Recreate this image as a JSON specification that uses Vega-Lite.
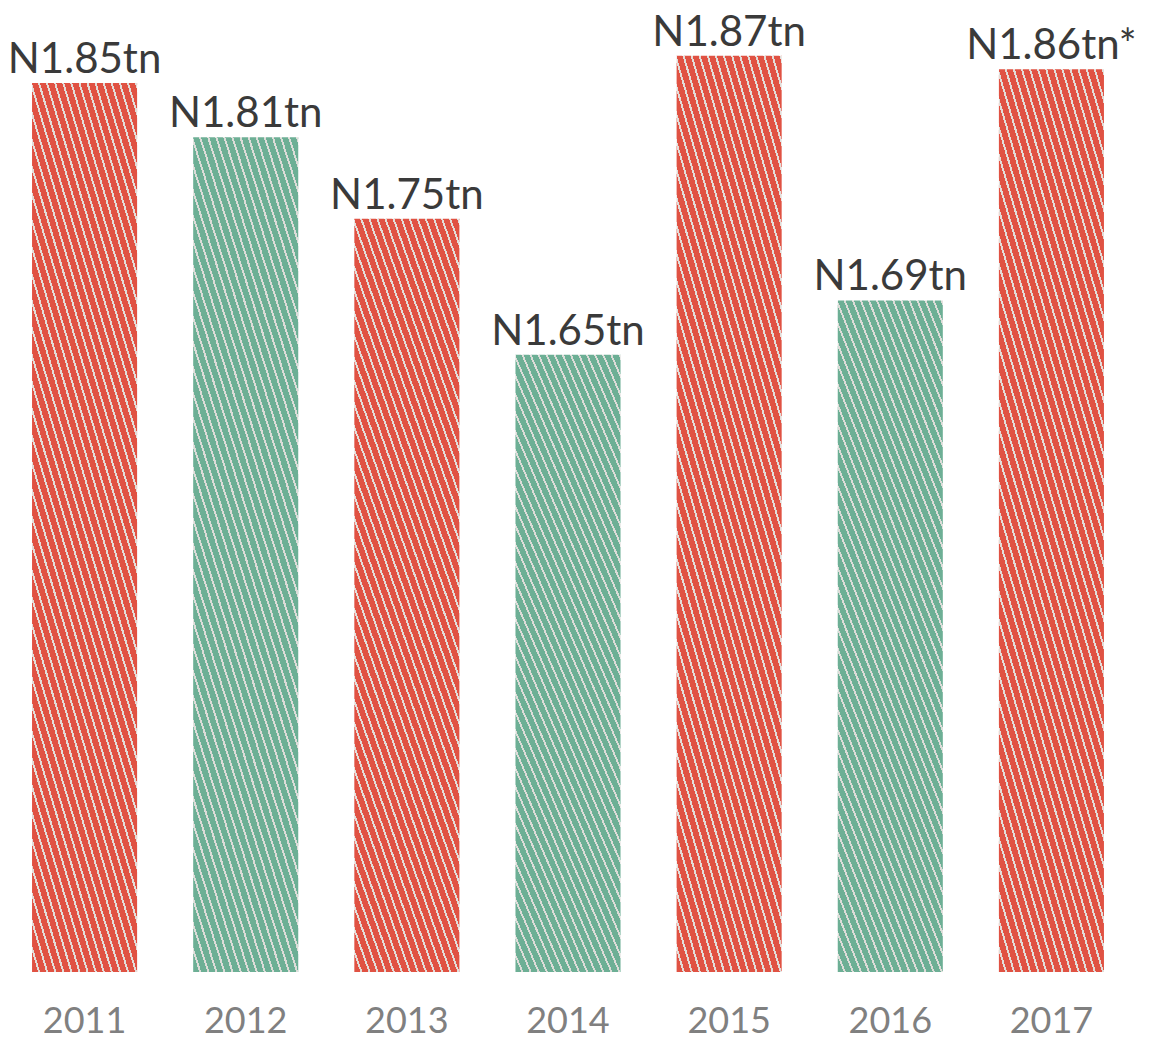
{
  "$schema": "https://vega.github.io/schema/vega-lite/v6.json",
  "width": 1128,
  "height": 972,
  "autosize": {"type": "none"},
  "padding": {"left": 4, "top": 0, "right": 29, "bottom": 71},
  "background": "#ffffff",
  "config": {"view": {"stroke": null}},
  "data": {
    "values": [
      {"year": "2011", "value": 1.85, "label": "N1.85tn"},
      {"year": "2012", "value": 1.81, "label": "N1.81tn"},
      {"year": "2013", "value": 1.75, "label": "N1.75tn"},
      {"year": "2014", "value": 1.65, "label": "N1.65tn"},
      {"year": "2015", "value": 1.87, "label": "N1.87tn"},
      {"year": "2016", "value": 1.69, "label": "N1.69tn"},
      {"year": "2017", "value": 1.86, "label": "N1.86tn*"}
    ]
  },
  "encoding": {
    "x": {
      "field": "year",
      "type": "nominal",
      "sort": null,
      "scale": {"paddingInner": 0.348, "paddingOuter": 0.174},
      "axis": {
        "title": null,
        "ticks": false,
        "domain": false,
        "labelAngle": 0,
        "labelPadding": 32,
        "labelFont": "Lato",
        "labelFontSize": 36,
        "labelColor": "#808080"
      }
    },
    "y": {
      "field": "value",
      "type": "quantitative",
      "scale": {"domain": [1.196, 1.911], "zero": false, "nice": false},
      "axis": null
    }
  },
  "layer": [
    {
      "mark": {"type": "bar"},
      "encoding": {
        "y2": {"datum": 1.196},
        "fill": {
          "condition": {
            "test": "toNumber(datum.year) % 2 == 1",
            "value": {
              "gradient": "linear", "x1": 0, "y1": 1, "x2": 0.516, "y2": -0.311,
              "stops": [
                {"offset":0,"color":"#e05243"},{"offset":0.015,"color":"#e05243"},{"offset":0.015,"color":"#e2ddd9"},{"offset":0.02,"color":"#e2ddd9"},
                {"offset":0.02,"color":"#e05243"},{"offset":0.035,"color":"#e05243"},{"offset":0.035,"color":"#e2ddd9"},{"offset":0.04,"color":"#e2ddd9"},
                {"offset":0.04,"color":"#e05243"},{"offset":0.055,"color":"#e05243"},{"offset":0.055,"color":"#e2ddd9"},{"offset":0.06,"color":"#e2ddd9"},
                {"offset":0.06,"color":"#e05243"},{"offset":0.075,"color":"#e05243"},{"offset":0.075,"color":"#e2ddd9"},{"offset":0.08,"color":"#e2ddd9"},
                {"offset":0.08,"color":"#e05243"},{"offset":0.095,"color":"#e05243"},{"offset":0.095,"color":"#e2ddd9"},{"offset":0.1,"color":"#e2ddd9"},
                {"offset":0.1,"color":"#e05243"},{"offset":0.115,"color":"#e05243"},{"offset":0.115,"color":"#e2ddd9"},{"offset":0.12,"color":"#e2ddd9"},
                {"offset":0.12,"color":"#e05243"},{"offset":0.135,"color":"#e05243"},{"offset":0.135,"color":"#e2ddd9"},{"offset":0.14,"color":"#e2ddd9"},
                {"offset":0.14,"color":"#e05243"},{"offset":0.155,"color":"#e05243"},{"offset":0.155,"color":"#e2ddd9"},{"offset":0.16,"color":"#e2ddd9"},
                {"offset":0.16,"color":"#e05243"},{"offset":0.175,"color":"#e05243"},{"offset":0.175,"color":"#e2ddd9"},{"offset":0.18,"color":"#e2ddd9"},
                {"offset":0.18,"color":"#e05243"},{"offset":0.195,"color":"#e05243"},{"offset":0.195,"color":"#e2ddd9"},{"offset":0.2,"color":"#e2ddd9"},
                {"offset":0.2,"color":"#e05243"},{"offset":0.215,"color":"#e05243"},{"offset":0.215,"color":"#e2ddd9"},{"offset":0.22,"color":"#e2ddd9"},
                {"offset":0.22,"color":"#e05243"},{"offset":0.235,"color":"#e05243"},{"offset":0.235,"color":"#e2ddd9"},{"offset":0.24,"color":"#e2ddd9"},
                {"offset":0.24,"color":"#e05243"},{"offset":0.255,"color":"#e05243"},{"offset":0.255,"color":"#e2ddd9"},{"offset":0.26,"color":"#e2ddd9"},
                {"offset":0.26,"color":"#e05243"},{"offset":0.275,"color":"#e05243"},{"offset":0.275,"color":"#e2ddd9"},{"offset":0.28,"color":"#e2ddd9"},
                {"offset":0.28,"color":"#e05243"},{"offset":0.295,"color":"#e05243"},{"offset":0.295,"color":"#e2ddd9"},{"offset":0.3,"color":"#e2ddd9"},
                {"offset":0.3,"color":"#e05243"},{"offset":0.315,"color":"#e05243"},{"offset":0.315,"color":"#e2ddd9"},{"offset":0.32,"color":"#e2ddd9"},
                {"offset":0.32,"color":"#e05243"},{"offset":0.335,"color":"#e05243"},{"offset":0.335,"color":"#e2ddd9"},{"offset":0.34,"color":"#e2ddd9"},
                {"offset":0.34,"color":"#e05243"},{"offset":0.355,"color":"#e05243"},{"offset":0.355,"color":"#e2ddd9"},{"offset":0.36,"color":"#e2ddd9"},
                {"offset":0.36,"color":"#e05243"},{"offset":0.375,"color":"#e05243"},{"offset":0.375,"color":"#e2ddd9"},{"offset":0.38,"color":"#e2ddd9"},
                {"offset":0.38,"color":"#e05243"},{"offset":0.395,"color":"#e05243"},{"offset":0.395,"color":"#e2ddd9"},{"offset":0.4,"color":"#e2ddd9"},
                {"offset":0.4,"color":"#e05243"},{"offset":0.415,"color":"#e05243"},{"offset":0.415,"color":"#e2ddd9"},{"offset":0.42,"color":"#e2ddd9"},
                {"offset":0.42,"color":"#e05243"},{"offset":0.435,"color":"#e05243"},{"offset":0.435,"color":"#e2ddd9"},{"offset":0.44,"color":"#e2ddd9"},
                {"offset":0.44,"color":"#e05243"},{"offset":0.455,"color":"#e05243"},{"offset":0.455,"color":"#e2ddd9"},{"offset":0.46,"color":"#e2ddd9"},
                {"offset":0.46,"color":"#e05243"},{"offset":0.475,"color":"#e05243"},{"offset":0.475,"color":"#e2ddd9"},{"offset":0.48,"color":"#e2ddd9"},
                {"offset":0.48,"color":"#e05243"},{"offset":0.495,"color":"#e05243"},{"offset":0.495,"color":"#e2ddd9"},{"offset":0.5,"color":"#e2ddd9"},
                {"offset":0.5,"color":"#e05243"},{"offset":0.515,"color":"#e05243"},{"offset":0.515,"color":"#e2ddd9"},{"offset":0.52,"color":"#e2ddd9"},
                {"offset":0.52,"color":"#e05243"},{"offset":0.535,"color":"#e05243"},{"offset":0.535,"color":"#e2ddd9"},{"offset":0.54,"color":"#e2ddd9"},
                {"offset":0.54,"color":"#e05243"},{"offset":0.555,"color":"#e05243"},{"offset":0.555,"color":"#e2ddd9"},{"offset":0.56,"color":"#e2ddd9"},
                {"offset":0.56,"color":"#e05243"},{"offset":0.575,"color":"#e05243"},{"offset":0.575,"color":"#e2ddd9"},{"offset":0.58,"color":"#e2ddd9"},
                {"offset":0.58,"color":"#e05243"},{"offset":0.595,"color":"#e05243"},{"offset":0.595,"color":"#e2ddd9"},{"offset":0.6,"color":"#e2ddd9"},
                {"offset":0.6,"color":"#e05243"},{"offset":0.615,"color":"#e05243"},{"offset":0.615,"color":"#e2ddd9"},{"offset":0.62,"color":"#e2ddd9"},
                {"offset":0.62,"color":"#e05243"},{"offset":0.635,"color":"#e05243"},{"offset":0.635,"color":"#e2ddd9"},{"offset":0.64,"color":"#e2ddd9"},
                {"offset":0.64,"color":"#e05243"},{"offset":0.655,"color":"#e05243"},{"offset":0.655,"color":"#e2ddd9"},{"offset":0.66,"color":"#e2ddd9"},
                {"offset":0.66,"color":"#e05243"},{"offset":0.675,"color":"#e05243"},{"offset":0.675,"color":"#e2ddd9"},{"offset":0.68,"color":"#e2ddd9"},
                {"offset":0.68,"color":"#e05243"},{"offset":0.695,"color":"#e05243"},{"offset":0.695,"color":"#e2ddd9"},{"offset":0.7,"color":"#e2ddd9"},
                {"offset":0.7,"color":"#e05243"},{"offset":0.715,"color":"#e05243"},{"offset":0.715,"color":"#e2ddd9"},{"offset":0.72,"color":"#e2ddd9"},
                {"offset":0.72,"color":"#e05243"},{"offset":0.735,"color":"#e05243"},{"offset":0.735,"color":"#e2ddd9"},{"offset":0.74,"color":"#e2ddd9"},
                {"offset":0.74,"color":"#e05243"},{"offset":0.755,"color":"#e05243"},{"offset":0.755,"color":"#e2ddd9"},{"offset":0.76,"color":"#e2ddd9"},
                {"offset":0.76,"color":"#e05243"},{"offset":0.775,"color":"#e05243"},{"offset":0.775,"color":"#e2ddd9"},{"offset":0.78,"color":"#e2ddd9"},
                {"offset":0.78,"color":"#e05243"},{"offset":0.795,"color":"#e05243"},{"offset":0.795,"color":"#e2ddd9"},{"offset":0.8,"color":"#e2ddd9"},
                {"offset":0.8,"color":"#e05243"},{"offset":0.815,"color":"#e05243"},{"offset":0.815,"color":"#e2ddd9"},{"offset":0.82,"color":"#e2ddd9"},
                {"offset":0.82,"color":"#e05243"},{"offset":0.835,"color":"#e05243"},{"offset":0.835,"color":"#e2ddd9"},{"offset":0.84,"color":"#e2ddd9"},
                {"offset":0.84,"color":"#e05243"},{"offset":0.855,"color":"#e05243"},{"offset":0.855,"color":"#e2ddd9"},{"offset":0.86,"color":"#e2ddd9"},
                {"offset":0.86,"color":"#e05243"},{"offset":0.875,"color":"#e05243"},{"offset":0.875,"color":"#e2ddd9"},{"offset":0.88,"color":"#e2ddd9"},
                {"offset":0.88,"color":"#e05243"},{"offset":0.895,"color":"#e05243"},{"offset":0.895,"color":"#e2ddd9"},{"offset":0.9,"color":"#e2ddd9"},
                {"offset":0.9,"color":"#e05243"},{"offset":0.915,"color":"#e05243"},{"offset":0.915,"color":"#e2ddd9"},{"offset":0.92,"color":"#e2ddd9"},
                {"offset":0.92,"color":"#e05243"},{"offset":0.935,"color":"#e05243"},{"offset":0.935,"color":"#e2ddd9"},{"offset":0.94,"color":"#e2ddd9"},
                {"offset":0.94,"color":"#e05243"},{"offset":1,"color":"#e05243"}
              ]
            }
          },
          "value": {
            "gradient": "linear", "x1": 0, "y1": 1, "x2": 0.516, "y2": -0.311,
            "stops": [
              {"offset":0,"color":"#6daf95"},{"offset":0.015,"color":"#6daf95"},{"offset":0.015,"color":"#dcdcd8"},{"offset":0.02,"color":"#dcdcd8"},
              {"offset":0.02,"color":"#6daf95"},{"offset":0.035,"color":"#6daf95"},{"offset":0.035,"color":"#dcdcd8"},{"offset":0.04,"color":"#dcdcd8"},
              {"offset":0.04,"color":"#6daf95"},{"offset":0.055,"color":"#6daf95"},{"offset":0.055,"color":"#dcdcd8"},{"offset":0.06,"color":"#dcdcd8"},
              {"offset":0.06,"color":"#6daf95"},{"offset":0.075,"color":"#6daf95"},{"offset":0.075,"color":"#dcdcd8"},{"offset":0.08,"color":"#dcdcd8"},
              {"offset":0.08,"color":"#6daf95"},{"offset":0.095,"color":"#6daf95"},{"offset":0.095,"color":"#dcdcd8"},{"offset":0.1,"color":"#dcdcd8"},
              {"offset":0.1,"color":"#6daf95"},{"offset":0.115,"color":"#6daf95"},{"offset":0.115,"color":"#dcdcd8"},{"offset":0.12,"color":"#dcdcd8"},
              {"offset":0.12,"color":"#6daf95"},{"offset":0.135,"color":"#6daf95"},{"offset":0.135,"color":"#dcdcd8"},{"offset":0.14,"color":"#dcdcd8"},
              {"offset":0.14,"color":"#6daf95"},{"offset":0.155,"color":"#6daf95"},{"offset":0.155,"color":"#dcdcd8"},{"offset":0.16,"color":"#dcdcd8"},
              {"offset":0.16,"color":"#6daf95"},{"offset":0.175,"color":"#6daf95"},{"offset":0.175,"color":"#dcdcd8"},{"offset":0.18,"color":"#dcdcd8"},
              {"offset":0.18,"color":"#6daf95"},{"offset":0.195,"color":"#6daf95"},{"offset":0.195,"color":"#dcdcd8"},{"offset":0.2,"color":"#dcdcd8"},
              {"offset":0.2,"color":"#6daf95"},{"offset":0.215,"color":"#6daf95"},{"offset":0.215,"color":"#dcdcd8"},{"offset":0.22,"color":"#dcdcd8"},
              {"offset":0.22,"color":"#6daf95"},{"offset":0.235,"color":"#6daf95"},{"offset":0.235,"color":"#dcdcd8"},{"offset":0.24,"color":"#dcdcd8"},
              {"offset":0.24,"color":"#6daf95"},{"offset":0.255,"color":"#6daf95"},{"offset":0.255,"color":"#dcdcd8"},{"offset":0.26,"color":"#dcdcd8"},
              {"offset":0.26,"color":"#6daf95"},{"offset":0.275,"color":"#6daf95"},{"offset":0.275,"color":"#dcdcd8"},{"offset":0.28,"color":"#dcdcd8"},
              {"offset":0.28,"color":"#6daf95"},{"offset":0.295,"color":"#6daf95"},{"offset":0.295,"color":"#dcdcd8"},{"offset":0.3,"color":"#dcdcd8"},
              {"offset":0.3,"color":"#6daf95"},{"offset":0.315,"color":"#6daf95"},{"offset":0.315,"color":"#dcdcd8"},{"offset":0.32,"color":"#dcdcd8"},
              {"offset":0.32,"color":"#6daf95"},{"offset":0.335,"color":"#6daf95"},{"offset":0.335,"color":"#dcdcd8"},{"offset":0.34,"color":"#dcdcd8"},
              {"offset":0.34,"color":"#6daf95"},{"offset":0.355,"color":"#6daf95"},{"offset":0.355,"color":"#dcdcd8"},{"offset":0.36,"color":"#dcdcd8"},
              {"offset":0.36,"color":"#6daf95"},{"offset":0.375,"color":"#6daf95"},{"offset":0.375,"color":"#dcdcd8"},{"offset":0.38,"color":"#dcdcd8"},
              {"offset":0.38,"color":"#6daf95"},{"offset":0.395,"color":"#6daf95"},{"offset":0.395,"color":"#dcdcd8"},{"offset":0.4,"color":"#dcdcd8"},
              {"offset":0.4,"color":"#6daf95"},{"offset":0.415,"color":"#6daf95"},{"offset":0.415,"color":"#dcdcd8"},{"offset":0.42,"color":"#dcdcd8"},
              {"offset":0.42,"color":"#6daf95"},{"offset":0.435,"color":"#6daf95"},{"offset":0.435,"color":"#dcdcd8"},{"offset":0.44,"color":"#dcdcd8"},
              {"offset":0.44,"color":"#6daf95"},{"offset":0.455,"color":"#6daf95"},{"offset":0.455,"color":"#dcdcd8"},{"offset":0.46,"color":"#dcdcd8"},
              {"offset":0.46,"color":"#6daf95"},{"offset":0.475,"color":"#6daf95"},{"offset":0.475,"color":"#dcdcd8"},{"offset":0.48,"color":"#dcdcd8"},
              {"offset":0.48,"color":"#6daf95"},{"offset":0.495,"color":"#6daf95"},{"offset":0.495,"color":"#dcdcd8"},{"offset":0.5,"color":"#dcdcd8"},
              {"offset":0.5,"color":"#6daf95"},{"offset":0.515,"color":"#6daf95"},{"offset":0.515,"color":"#dcdcd8"},{"offset":0.52,"color":"#dcdcd8"},
              {"offset":0.52,"color":"#6daf95"},{"offset":0.535,"color":"#6daf95"},{"offset":0.535,"color":"#dcdcd8"},{"offset":0.54,"color":"#dcdcd8"},
              {"offset":0.54,"color":"#6daf95"},{"offset":0.555,"color":"#6daf95"},{"offset":0.555,"color":"#dcdcd8"},{"offset":0.56,"color":"#dcdcd8"},
              {"offset":0.56,"color":"#6daf95"},{"offset":0.575,"color":"#6daf95"},{"offset":0.575,"color":"#dcdcd8"},{"offset":0.58,"color":"#dcdcd8"},
              {"offset":0.58,"color":"#6daf95"},{"offset":0.595,"color":"#6daf95"},{"offset":0.595,"color":"#dcdcd8"},{"offset":0.6,"color":"#dcdcd8"},
              {"offset":0.6,"color":"#6daf95"},{"offset":0.615,"color":"#6daf95"},{"offset":0.615,"color":"#dcdcd8"},{"offset":0.62,"color":"#dcdcd8"},
              {"offset":0.62,"color":"#6daf95"},{"offset":0.635,"color":"#6daf95"},{"offset":0.635,"color":"#dcdcd8"},{"offset":0.64,"color":"#dcdcd8"},
              {"offset":0.64,"color":"#6daf95"},{"offset":0.655,"color":"#6daf95"},{"offset":0.655,"color":"#dcdcd8"},{"offset":0.66,"color":"#dcdcd8"},
              {"offset":0.66,"color":"#6daf95"},{"offset":0.675,"color":"#6daf95"},{"offset":0.675,"color":"#dcdcd8"},{"offset":0.68,"color":"#dcdcd8"},
              {"offset":0.68,"color":"#6daf95"},{"offset":0.695,"color":"#6daf95"},{"offset":0.695,"color":"#dcdcd8"},{"offset":0.7,"color":"#dcdcd8"},
              {"offset":0.7,"color":"#6daf95"},{"offset":0.715,"color":"#6daf95"},{"offset":0.715,"color":"#dcdcd8"},{"offset":0.72,"color":"#dcdcd8"},
              {"offset":0.72,"color":"#6daf95"},{"offset":0.735,"color":"#6daf95"},{"offset":0.735,"color":"#dcdcd8"},{"offset":0.74,"color":"#dcdcd8"},
              {"offset":0.74,"color":"#6daf95"},{"offset":0.755,"color":"#6daf95"},{"offset":0.755,"color":"#dcdcd8"},{"offset":0.76,"color":"#dcdcd8"},
              {"offset":0.76,"color":"#6daf95"},{"offset":0.775,"color":"#6daf95"},{"offset":0.775,"color":"#dcdcd8"},{"offset":0.78,"color":"#dcdcd8"},
              {"offset":0.78,"color":"#6daf95"},{"offset":0.795,"color":"#6daf95"},{"offset":0.795,"color":"#dcdcd8"},{"offset":0.8,"color":"#dcdcd8"},
              {"offset":0.8,"color":"#6daf95"},{"offset":0.815,"color":"#6daf95"},{"offset":0.815,"color":"#dcdcd8"},{"offset":0.82,"color":"#dcdcd8"},
              {"offset":0.82,"color":"#6daf95"},{"offset":0.835,"color":"#6daf95"},{"offset":0.835,"color":"#dcdcd8"},{"offset":0.84,"color":"#dcdcd8"},
              {"offset":0.84,"color":"#6daf95"},{"offset":0.855,"color":"#6daf95"},{"offset":0.855,"color":"#dcdcd8"},{"offset":0.86,"color":"#dcdcd8"},
              {"offset":0.86,"color":"#6daf95"},{"offset":0.875,"color":"#6daf95"},{"offset":0.875,"color":"#dcdcd8"},{"offset":0.88,"color":"#dcdcd8"},
              {"offset":0.88,"color":"#6daf95"},{"offset":0.895,"color":"#6daf95"},{"offset":0.895,"color":"#dcdcd8"},{"offset":0.9,"color":"#dcdcd8"},
              {"offset":0.9,"color":"#6daf95"},{"offset":0.915,"color":"#6daf95"},{"offset":0.915,"color":"#dcdcd8"},{"offset":0.92,"color":"#dcdcd8"},
              {"offset":0.92,"color":"#6daf95"},{"offset":0.935,"color":"#6daf95"},{"offset":0.935,"color":"#dcdcd8"},{"offset":0.94,"color":"#dcdcd8"},
              {"offset":0.94,"color":"#6daf95"},{"offset":1,"color":"#6daf95"}
            ]
          }
        }
      }
    },
    {
      "mark": {
        "type": "text",
        "baseline": "alphabetic",
        "align": "center",
        "dy": -10,
        "font": "Lato",
        "fontSize": 42,
        "color": "#3a3a3a"
      },
      "encoding": {
        "text": {"field": "label", "type": "nominal"}
      }
    }
  ]
}
